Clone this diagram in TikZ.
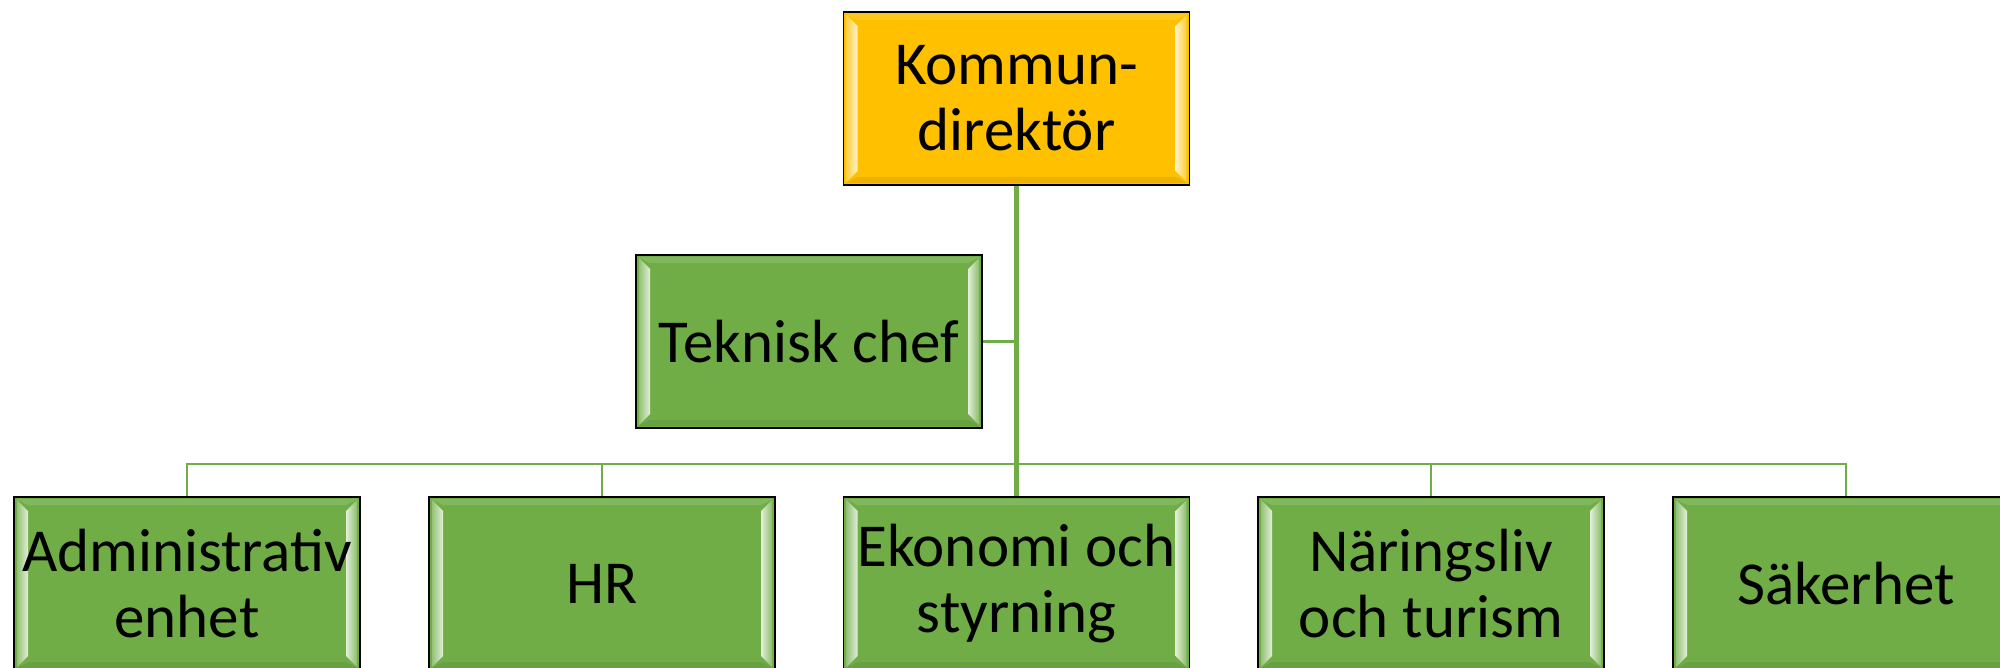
\documentclass[tikz,border=0pt]{standalone}
\usepackage{fontspec}
\setmainfont{Carlito}
\definecolor{gold}{HTML}{FFC000}
\definecolor{grn}{HTML}{70AD47}
\definecolor{conn}{HTML}{70AD47}
\begin{document}
\begin{tikzpicture}[x=1pt,y=-1pt,
  orgbox/.style={draw=black, line width=1.5pt, minimum width=346pt, minimum height=173pt,
    inner sep=0pt, align=center, font=\fontsize{61}{66}\selectfont,
    path picture={
      \coordinate (pnw) at (path picture bounding box.north west);
      \coordinate (pne) at (path picture bounding box.north east);
      \coordinate (psw) at (path picture bounding box.south west);
      \coordinate (pse) at (path picture bounding box.south east);
      \fill[#1!88!white] ([xshift=2pt,yshift=-2pt]pnw) -- ([xshift=-2pt,yshift=-2pt]pne) -- ([xshift=-14pt,yshift=-8pt]pne) -- ([xshift=14pt,yshift=-8pt]pnw) -- cycle;
      \fill[#1!93!black] ([xshift=2pt,yshift=2pt]psw) -- ([xshift=-2pt,yshift=2pt]pse) -- ([xshift=-14pt,yshift=8pt]pse) -- ([xshift=14pt,yshift=8pt]psw) -- cycle;
      \shade[left color=#1!75!white, right color=#1!20!white] ([xshift=3pt,yshift=-3pt]pnw) -- ([xshift=14pt,yshift=-14pt]pnw) -- ([xshift=14pt,yshift=14pt]psw) -- ([xshift=3pt,yshift=3pt]psw) -- cycle;
      \shade[right color=#1!80!white, left color=#1!20!white] ([xshift=-3pt,yshift=-3pt]pne) -- ([xshift=-14pt,yshift=-14pt]pne) -- ([xshift=-14pt,yshift=14pt]pse) -- ([xshift=-3pt,yshift=3pt]pse) -- cycle;
    }},
  gbox/.style={orgbox=grn, fill=grn},
  ybox/.style={orgbox=gold, fill=gold},
  trunk/.style={draw=conn, line width=4.5pt},
  branch/.style={draw=conn, line width=2.5pt}
]
\useasboundingbox (0,0) rectangle (2000,668);
\node[ybox] (top) at (1016.5,98.5) {Kommun-\\direktör};
\node[gbox] (tek) at (809,341.5) {Teknisk chef};
\node[gbox] (adm) at (187,583.5) {Administrativ\\enhet};
\node[gbox] (hr) at (602,583.5) {HR};
\node[gbox] (eko) at (1016.5,583.5) {Ekonomi och\\styrning};
\node[gbox] (nar) at (1431,583.5) {Näringsliv\\och turism};
\node[gbox] (sak) at (1846,583.5) {Säkerhet};
\coordinate (bus) at (1016.5,464);
\draw[branch] (tek.east) -- (tek.east -| top.south);
\draw[branch] (adm.north) |- (bus) -| (sak.north);
\draw[branch] (hr.north) |- (bus);
\draw[branch] (nar.north) |- (bus);
\draw[trunk] (top.south) -- (eko.north);
\end{tikzpicture}
\end{document}
